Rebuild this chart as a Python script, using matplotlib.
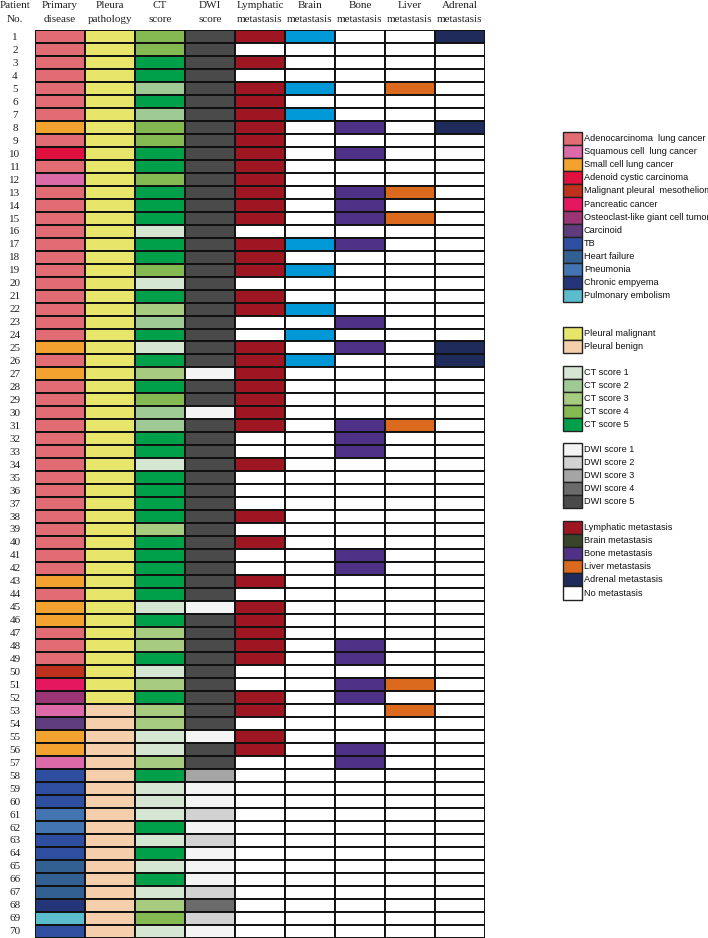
import numpy as np
import matplotlib.pyplot as plt
from matplotlib.patches import Rectangle

# ---- data ----
patients = np.arange(1, 71)

primary = ['AD', 'AD', 'AD', 'AD', 'AD', 'AD', 'AD', 'SC', 'AD', 'AC',
           'AD', 'SQ', 'AD', 'AD', 'AD', 'AD', 'AD', 'AD', 'AD', 'AD',
           'AD', 'AD', 'AD', 'AD', 'SC', 'AD', 'SC', 'AD', 'AD', 'AD',
           'AD', 'AD', 'AD', 'AD', 'AD', 'AD', 'AD', 'AD', 'AD', 'AD',
           'AD', 'AD', 'SC', 'AD', 'SC', 'SC', 'AD', 'AD', 'AD', 'MP',
           'PC', 'OG', 'SQ', 'CA', 'SC', 'SC', 'SQ', 'TB', 'TB', 'TB',
           'PN', 'PN', 'TB', 'TB', 'HF', 'HF', 'HF', 'CE', 'PE', 'TB']

# 1 = pleural malignant, 0 = pleural benign
pleura = [1] * 52 + [0] * 18

ct = [4, 4, 5, 5, 2, 5, 2, 4, 4, 5,
      5, 4, 5, 5, 5, 1, 5, 5, 4, 1,
      5, 3, 2, 5, 1, 5, 3, 5, 4, 2,
      2, 5, 5, 1, 5, 5, 5, 5, 3, 5,
      5, 5, 5, 5, 1, 5, 3, 3, 5, 1,
      3, 5, 3, 3, 1, 1, 3, 5, 1, 1,
      1, 5, 1, 5, 1, 5, 1, 3, 4, 1]

dwi = [5, 5, 5, 5, 5, 5, 5, 5, 5, 5,
       5, 5, 5, 5, 5, 5, 5, 5, 5, 5,
       5, 5, 5, 5, 5, 5, 1, 5, 5, 1,
       5, 5, 5, 5, 5, 5, 5, 5, 5, 5,
       5, 5, 5, 5, 1, 5, 5, 5, 5, 5,
       5, 5, 5, 5, 1, 5, 5, 3, 1, 1,
       2, 1, 2, 1, 1, 1, 2, 4, 2, 1]

# patient numbers with each metastasis
lymph_pts = [1, 3, 5, 6, 7, 8, 9, 10, 11, 12, 13, 14, 15, 17, 18, 19, 21, 22,
             25, 26, 27, 28, 29, 30, 31, 34, 38, 40, 43, 45, 46, 47, 48, 49,
             52, 53, 55, 56]
brain_pts = [1, 5, 7, 17, 19, 22, 24, 26]
bone_pts = [8, 10, 13, 14, 15, 17, 23, 25, 31, 32, 33, 41, 42, 48, 49, 51,
            52, 56, 57]
liver_pts = [5, 13, 15, 31, 51, 53]
adrenal_pts = [1, 8, 25, 26]

headers = [('Primary', 'disease'), ('Pleura', 'pathology'), ('CT', 'score'),
           ('DWI', 'score'), ('Lymphatic', 'metastasis'), ('Brain', 'metastasis'),
           ('Bone', 'metastasis'), ('Liver', 'metastasis'), ('Adrenal', 'metastasis')]

# ---- colours ----
primary_keys = ['AD', 'SQ', 'SC', 'AC', 'MP', 'PC', 'OG', 'CA', 'TB', 'HF', 'PN', 'CE', 'PE']
primary_labels = ['Adenocarcinoma  lung cancer', 'Squamous cell  lung cancer',
                  'Small cell lung cancer', 'Adenoid cystic carcinoma',
                  'Malignant pleural  mesothelioma', 'Pancreatic cancer',
                  'Osteoclast-like giant cell tumors', 'Carcinoid', 'TB',
                  'Heart failure', 'Pneumonia', 'Chronic empyema', 'Pulmonary embolism']
primary_colors = ['#e26c73', '#dc6aa8', '#f2a32f', '#e0113f', '#c0311d', '#e5175f',
                  '#9b3575', '#5f3c7e', '#2e4f9f', '#336092', '#4275b2', '#253579',
                  '#5bbccd']
pcol = dict(zip(primary_keys, primary_colors))

pleura_colors = {1: '#e8e66a', 0: '#f5cfac'}
ct_colors = {1: '#d5e6d3', 2: '#9fca96', 3: '#a7cc80', 4: '#85b951', 5: '#00a04a'}
dwi_colors = {1: '#f4f4f4', 2: '#d2d2d2', 3: '#a5a5a5', 4: '#6b6b6b', 5: '#4a4a4a'}
lymph_c, brain_c, bone_c, liver_c, adrenal_c = '#9e1621', '#0098d6', '#4f3288', '#dc6a1e', '#1f2b5a'


def met_col(pts, c):
    return [c if p in pts else 'white' for p in patients]


columns = [
    [pcol[k] for k in primary],
    [pleura_colors[v] for v in pleura],
    [ct_colors[v] for v in ct],
    [dwi_colors[v] for v in dwi],
    met_col(lymph_pts, lymph_c),
    met_col(brain_pts, brain_c),
    met_col(bone_pts, bone_c),
    met_col(liver_pts, liver_c),
    met_col(adrenal_pts, adrenal_c),
]

W, H = 708, 938
fig = plt.figure(figsize=(W / 100, H / 100), dpi=100)
serif = 'Liberation Serif'
sans = 'Liberation Sans'

# ---- main grid ----
ax = fig.add_axes([35 / W, 0.5 / H, 450 / W, 907 / H])
ax.set_xlim(0, 9)
ax.set_ylim(70, 0)
ax.axis('off')
for j, col in enumerate(columns):
    for i, c in enumerate(col):
        ax.add_patch(Rectangle((j, i), 1, 1, facecolor=c, edgecolor='#111111', lw=1.4))
    ax.text(j + 0.5, -1.95, headers[j][0], ha='center', va='center',
            family=serif, fontsize=8, color='#222222')
    ax.text(j + 0.5, -0.85, headers[j][1], ha='center', va='center',
            family=serif, fontsize=8, color='#222222')

ax.text(-0.4, -1.95, 'Patient', ha='center', va='center', family=serif, fontsize=8, color='#222222')
ax.text(-0.4, -0.85, 'No.', ha='center', va='center', family=serif, fontsize=8, color='#222222')
for i, p in enumerate(patients):
    ax.text(-0.4, i + 0.55, str(p), ha='center', va='center', family=serif,
            fontsize=8, color='#222222')

# ---- legend ----
lax = fig.add_axes([0, 0, 1, 1])
lax.set_xlim(0, W)
lax.set_ylim(H, 0)
lax.axis('off')
lax.set_zorder(-1)

groups = [
    (132, primary_labels, primary_colors),
    (327, ['Pleural malignant', 'Pleural benign'], [pleura_colors[1], pleura_colors[0]]),
    (366, ['CT score %d' % k for k in range(1, 6)], [ct_colors[k] for k in range(1, 6)]),
    (443, ['DWI score %d' % k for k in range(1, 6)], [dwi_colors[k] for k in range(1, 6)]),
    (521, ['Lymphatic metastasis', 'Brain metastasis', 'Bone metastasis',
           'Liver metastasis', 'Adrenal metastasis', 'No metastasis'],
     [lymph_c, '#3a4428', bone_c, liver_c, adrenal_c, 'white']),
]
step = 13.1
for top, labels, cols in groups:
    for k, (lab, c) in enumerate(zip(labels, cols)):
        y = top + k * step
        lax.add_patch(Rectangle((563, y), 19, step, facecolor=c, edgecolor='#222222', lw=1.0))
        lax.text(584, y + step / 2, lab, ha='left', va='center', family=sans,
                 fontsize=6.6, color='#111111')

fig.savefig('out.png', dpi=100)
